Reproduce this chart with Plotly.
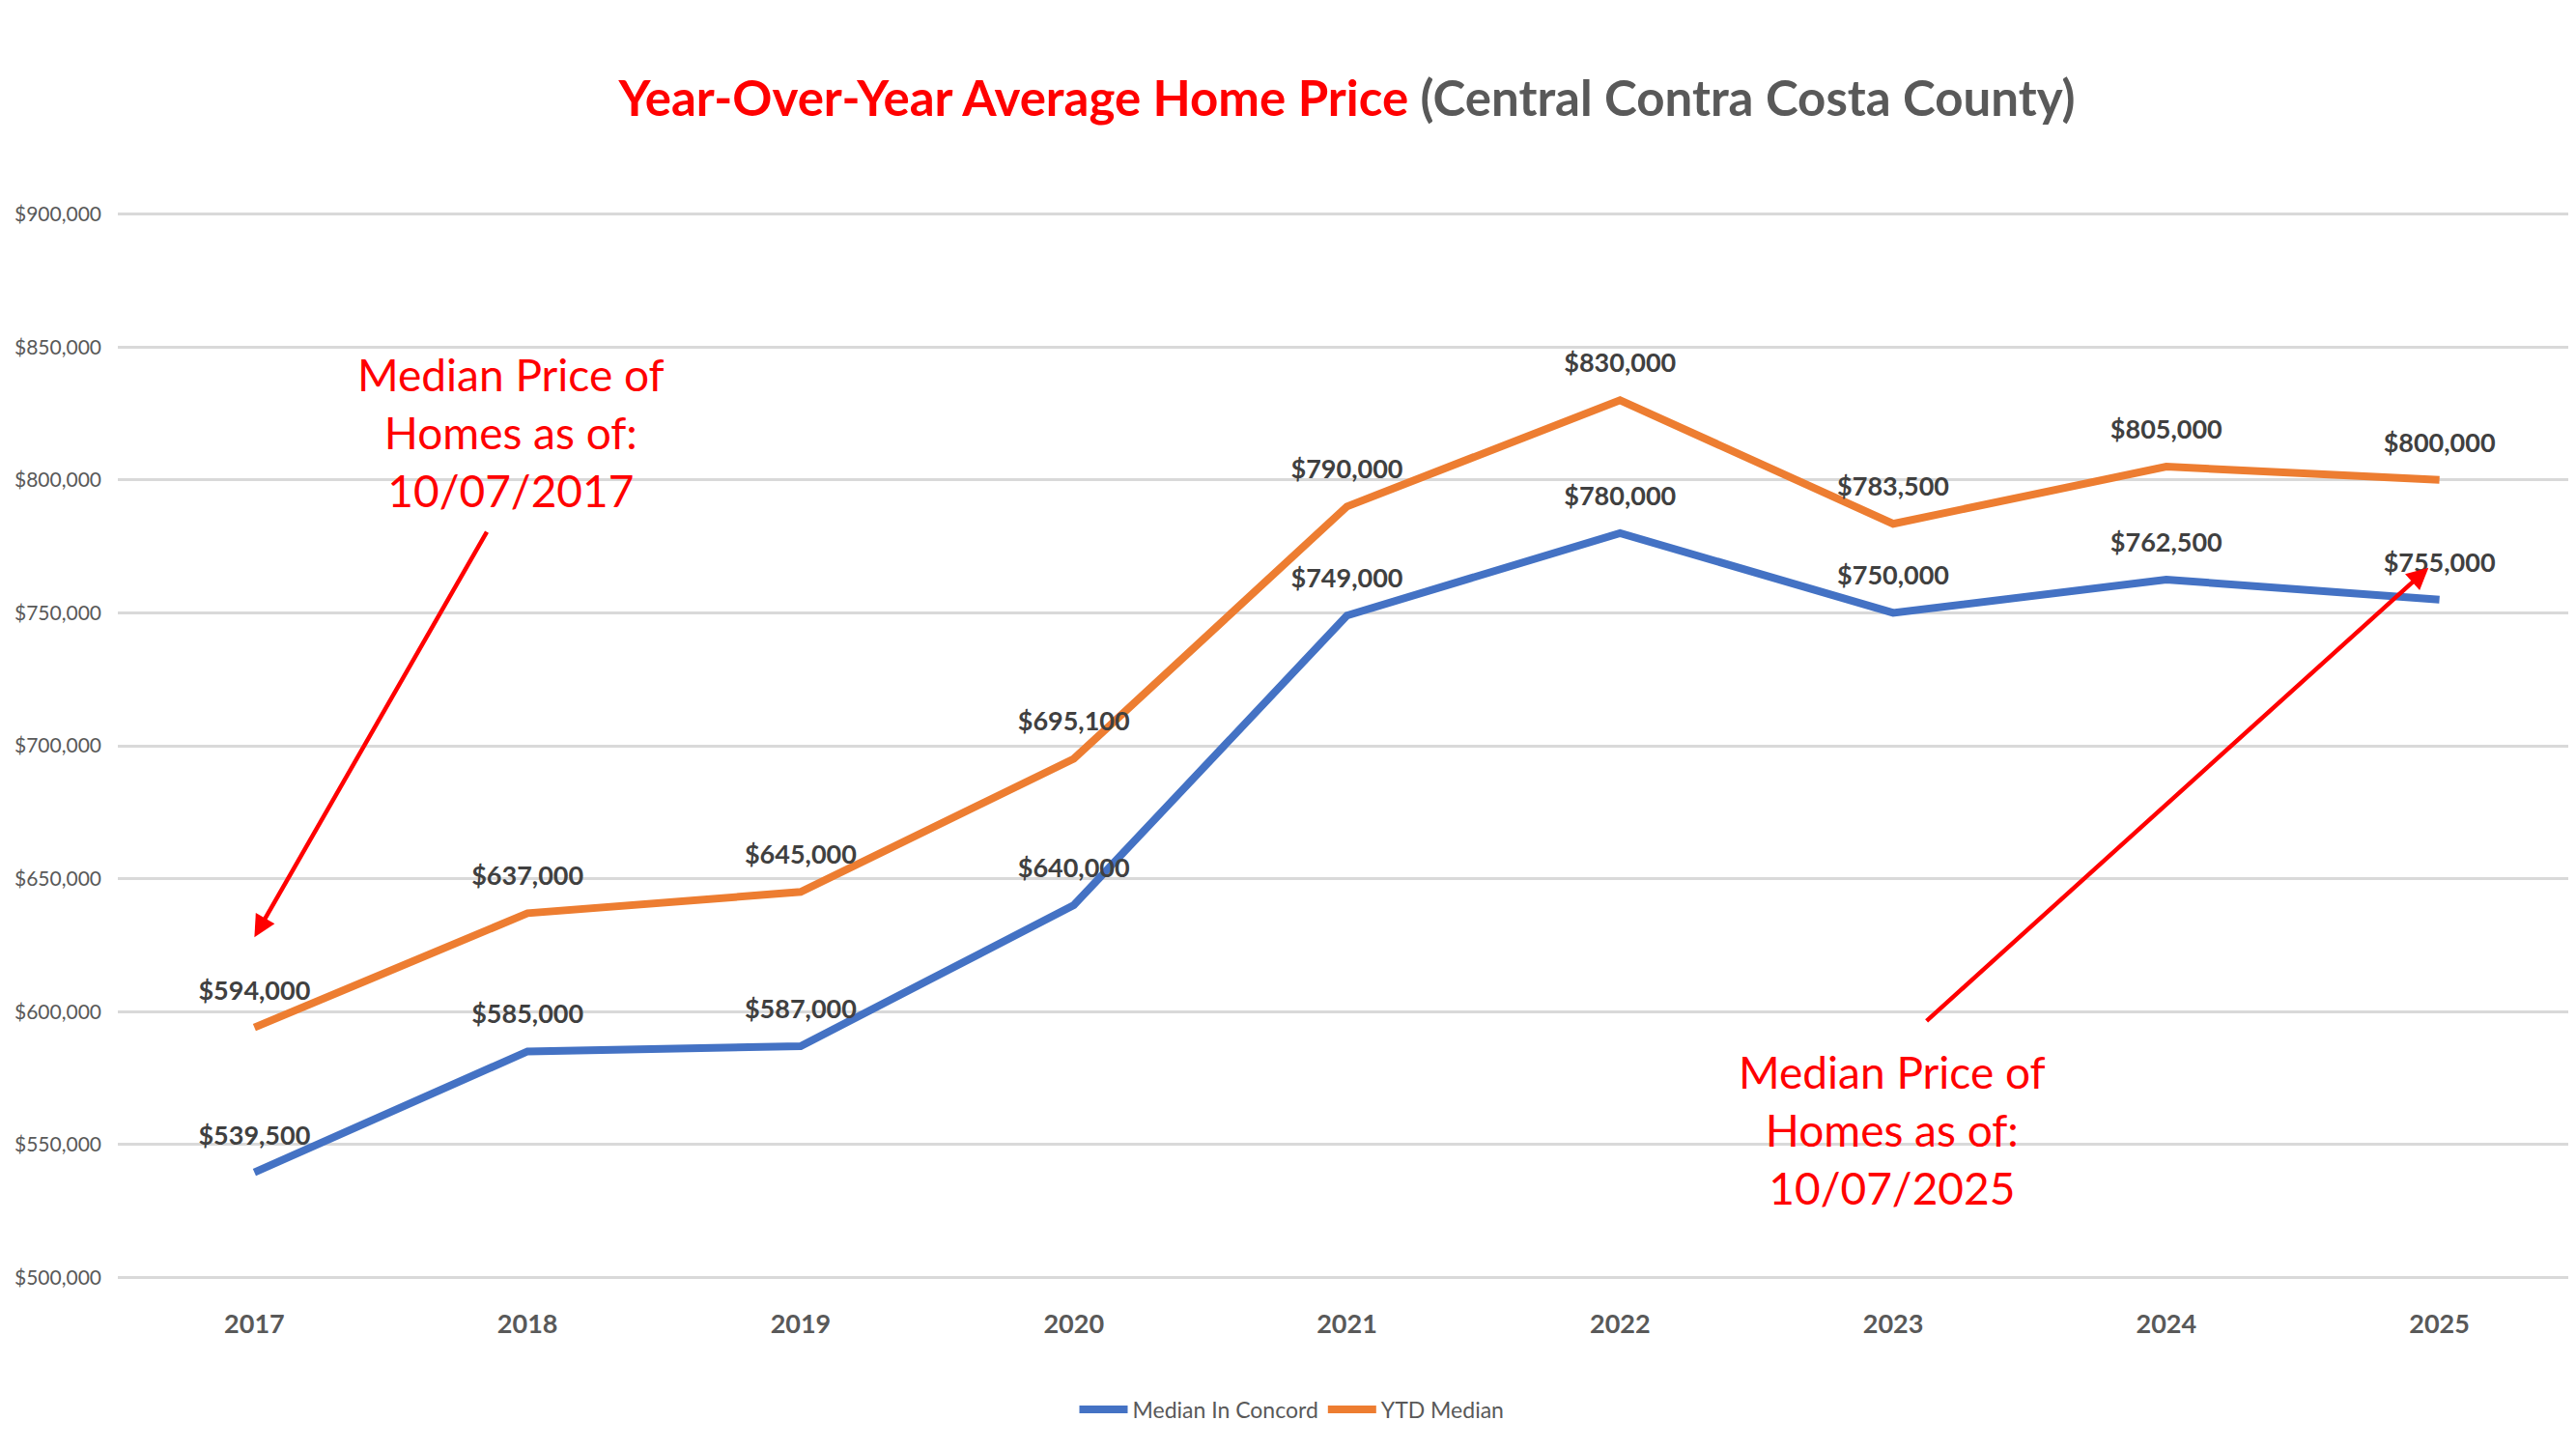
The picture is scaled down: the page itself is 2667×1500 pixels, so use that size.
import plotly.graph_objects as go

# chart data
years = ["2017", "2018", "2019", "2020", "2021", "2022", "2023", "2024", "2025"]
median_concord = [539500, 585000, 587000, 640000, 749000, 780000, 750000, 762500, 755000]
ytd_median = [594000, 637000, 645000, 695100, 790000, 830000, 783500, 805000, 800000]
y_ticks = [500000, 550000, 600000, 650000, 700000, 750000, 800000, 850000, 900000]

BLUE = "#4472C4"
ORANGE = "#ED7D31"
GREY = "#595959"
LABEL = "#404040"
RED = "#FF0000"
FONT = "Lato"

# page body has an 8px margin, so the figure is drawn 8px smaller
W, H = 2659, 1492

fig = go.Figure()

for name, values, color in [("Median In Concord", median_concord, BLUE),
                            ("YTD Median", ytd_median, ORANGE)]:
    fig.add_trace(go.Scatter(
        x=years,
        y=values,
        name=name,
        mode="lines+markers+text",
        line=dict(color=color, width=8),
        # invisible marker just to push the labels up off the line
        marker=dict(size=34, color="rgba(0,0,0,0)"),
        text=[f"${v:,.0f}" for v in values],
        textposition="top center",
        textfont=dict(family=FONT, size=27, color=LABEL, weight="bold"),
        cliponaxis=False,
        hoverinfo="x+y+name",
    ))

# callout notes with arrows
notes = [
    dict(text="Median Price of<br>Homes as of:<br>10/07/2017", x=0.94, y=818000,
         tip=(0.0, 628000), tail=(0.854, 781000)),
    dict(text="Median Price of<br>Homes as of:<br>10/07/2025", x=5.997, y=555500,
         tip=(7.96, 767000), tail=(6.117, 596000)),
]
for n in notes:
    fig.add_annotation(x=n["x"], y=n["y"], xref="x", yref="y", text=n["text"],
                       showarrow=False,
                       font=dict(family=FONT, size=46, color=RED))
    fig.add_annotation(x=n["tip"][0], y=n["tip"][1], ax=n["tail"][0], ay=n["tail"][1],
                       xref="x", yref="y", axref="x", ayref="y", text="",
                       showarrow=True, arrowhead=2, arrowsize=1, arrowwidth=4.5,
                       arrowcolor=RED)

fig.update_layout(
    width=W,
    height=H,
    paper_bgcolor="white",
    plot_bgcolor="white",
    margin=dict(l=114, r=0, t=212, b=176, autoexpand=False),
    title=dict(
        text=("<span style='color:#FF0000'>Year-Over-Year Average Home Price</span> "
              "<span style='color:#595959'>(Central Contra Costa County)</span>"),
        x=0.5, xanchor="center", xref="paper",
        y=1 - 94 / H, yanchor="middle",
        font=dict(family=FONT, size=51, weight="bold"),
    ),
    showlegend=True,
    legend=dict(
        orientation="h",
        xref="container", yref="container",
        x=0.5, xanchor="center", y=1 - 1451 / H, yanchor="middle",
        font=dict(family=FONT, size=23, color=GREY),
        itemwidth=50,
    ),
)

fig.update_xaxes(
    type="category",
    range=[-0.5, 8.5],
    showgrid=False,
    showline=False,
    zeroline=False,
    ticks="",
    automargin=False,
    ticklabelstandoff=28,
    tickfont=dict(family=FONT, size=27, color=GREY, weight="bold"),
)
# a hair past 500k/900k so the edge grid lines are still drawn
fig.update_yaxes(
    range=[499400, 900600],
    tickvals=y_ticks,
    tickformat="$,.0f",
    showgrid=True,
    gridcolor="#D9D9D9",
    gridwidth=3,
    zeroline=False,
    showline=False,
    ticks="",
    automargin=False,
    ticklabelstandoff=16,
    tickfont=dict(family=FONT, size=21, color=GREY),
)

fig.write_html("out.html")
